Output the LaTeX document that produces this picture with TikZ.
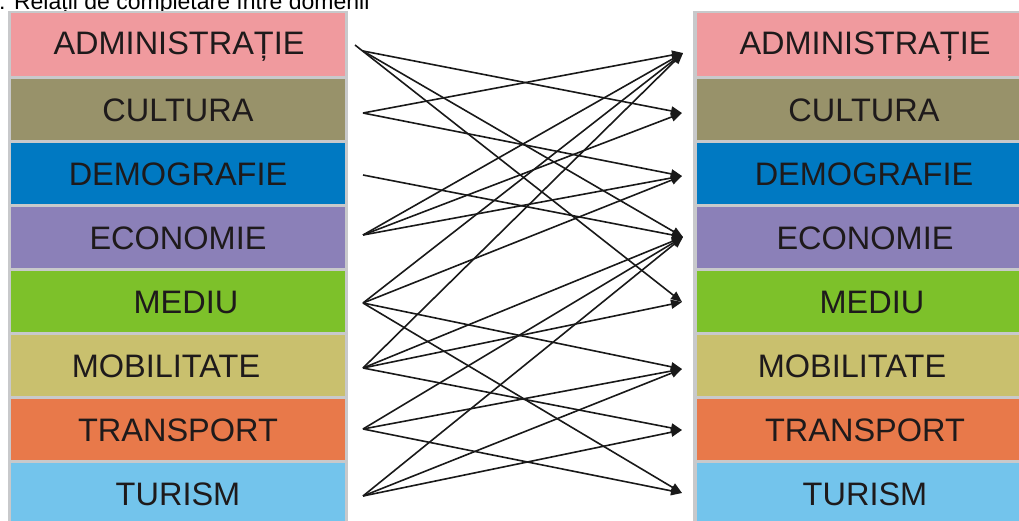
\documentclass[tikz,border=0pt]{standalone}
\usepackage{fontspec}
\setmainfont{Liberation Sans}
\usetikzlibrary{arrows.meta}
\definecolor{cADM}{RGB}{240,154,158}
\definecolor{cCUL}{RGB}{152,146,106}
\definecolor{cDEM}{RGB}{0,121,194}
\definecolor{cECO}{RGB}{139,128,184}
\definecolor{cMED}{RGB}{125,193,42}
\definecolor{cMOB}{RGB}{201,192,110}
\definecolor{cTRA}{RGB}{232,121,74}
\definecolor{cTUR}{RGB}{115,196,236}
\definecolor{framegray}{RGB}{200,201,203}
\definecolor{txt}{RGB}{30,26,27}
\begin{document}
\begin{tikzpicture}[x=1pt,y=-1pt,
  lrow/.style={minimum width=334pt, minimum height=60.5pt, inner sep=0pt, outer sep=0pt, anchor=north west},
  rrow/.style={minimum width=330pt, minimum height=60.5pt, inner sep=0pt, outer sep=0pt, anchor=north west},
  lbl/.style={font=\fontsize{32.5}{34}\selectfont, text=txt, anchor=base, inner sep=0pt},
  rel/.style={line width=1.6pt, draw=black!90, -{Triangle[length=11pt,width=9pt]}}]
\useasboundingbox (0,0) rectangle (1019,520);
% title (cut at top)
\node[font=\fontsize{23}{25}\selectfont, anchor=base west, inner sep=0pt, text=black] (title) at (-1,9) {: Relații de completare între domenii};
% grey frames
\fill[framegray] (8,11) rectangle (348,530);
\fill[framegray] (693,11) rectangle (1030,530);
% left column
\node[lrow, fill=cADM, minimum height=63pt] (l1) at (11,13) {};
\node[lrow, fill=cCUL] (l2) at (11,79) {};
\node[lrow, fill=cDEM] (l3) at (11,143) {};
\node[lrow, fill=cECO] (l4) at (11,207) {};
\node[lrow, fill=cMED] (l5) at (11,271) {};
\node[lrow, fill=cMOB] (l6) at (11,335) {};
\node[lrow, fill=cTRA] (l7) at (11,399) {};
\node[lrow, fill=cTUR] (l8) at (11,463) {};
% right column
\node[rrow, fill=cADM, minimum height=63pt] (r1) at (697,13) {};
\node[rrow, fill=cCUL] (r2) at (697,79) {};
\node[rrow, fill=cDEM] (r3) at (697,143) {};
\node[rrow, fill=cECO] (r4) at (697,207) {};
\node[rrow, fill=cMED] (r5) at (697,271) {};
\node[rrow, fill=cMOB] (r6) at (697,335) {};
\node[rrow, fill=cTRA] (r7) at (697,399) {};
\node[rrow, fill=cTUR] (r8) at (697,463) {};
% left labels
\node[lbl] (lt1) at (179,54) {ADMINISTRAȚIE};
\node[lbl] (lt2) at (178,121) {CULTURA};
\node[lbl] (lt3) at (178,185) {DEMOGRAFIE};
\node[lbl] (lt4) at (178,249) {ECONOMIE};
\node[lbl] (lt5) at (186,313) {MEDIU};
\node[lbl] (lt6) at (166,377) {MOBILITATE};
\node[lbl] (lt7) at (178,441) {TRANSPORT};
\node[lbl] (lt8) at (178,505) {TURISM};
% right labels
\node[lbl] (rt1) at (865,54) {ADMINISTRAȚIE};
\node[lbl] (rt2) at (864,121) {CULTURA};
\node[lbl] (rt3) at (864,185) {DEMOGRAFIE};
\node[lbl] (rt4) at (865,249) {ECONOMIE};
\node[lbl] (rt5) at (872,313) {MEDIU};
\node[lbl] (rt6) at (852,377) {MOBILITATE};
\node[lbl] (rt7) at (865,441) {TRANSPORT};
\node[lbl] (rt8) at (865,505) {TURISM};
% start points
\coordinate (s1) at (363,51);
\coordinate (s1b) at (355,45);
\coordinate (s2) at (363,113);
\coordinate (s3) at (363,175);
\coordinate (s4) at (363,235);
\coordinate (s5) at (363,303);
\coordinate (s6) at (363,368);
\coordinate (s7) at (363,429);
\coordinate (s8) at (363,496);
% end points
\coordinate (e1) at (683,53);
\coordinate (e2) at (682,113);
\coordinate (e3) at (682,176);
\coordinate (e4) at (683,237);
\coordinate (e5) at (682,302);
\coordinate (e6) at (682,369);
\coordinate (e7) at (682,430);
\coordinate (e8) at (682,493);
% relations
\draw[rel] (s1) -- (e2);
\draw[rel] (s1) -- (e4);
\draw[rel] (s1b) -- (e5);
\draw[rel] (s2) -- (e1);
\draw[rel] (s2) -- (e3);
\draw[rel] (s3) -- (e4);
\draw[rel] (s4) -- (e1);
\draw[rel] (s4) -- (e2);
\draw[rel] (s4) -- (e3);
\draw[rel] (s5) -- (e1);
\draw[rel] (s5) -- (e3);
\draw[rel] (s5) -- (e6);
\draw[rel] (s5) -- (e8);
\draw[rel] (s6) -- (e1);
\draw[rel] (s6) -- (e4);
\draw[rel] (s6) -- (e5);
\draw[rel] (s6) -- (e7);
\draw[rel] (s7) -- (e4);
\draw[rel] (s7) -- (e6);
\draw[rel] (s7) -- (e8);
\draw[rel] (s8) -- (e4);
\draw[rel] (s8) -- (e6);
\draw[rel] (s8) -- (e7);
\end{tikzpicture}
\end{document}
